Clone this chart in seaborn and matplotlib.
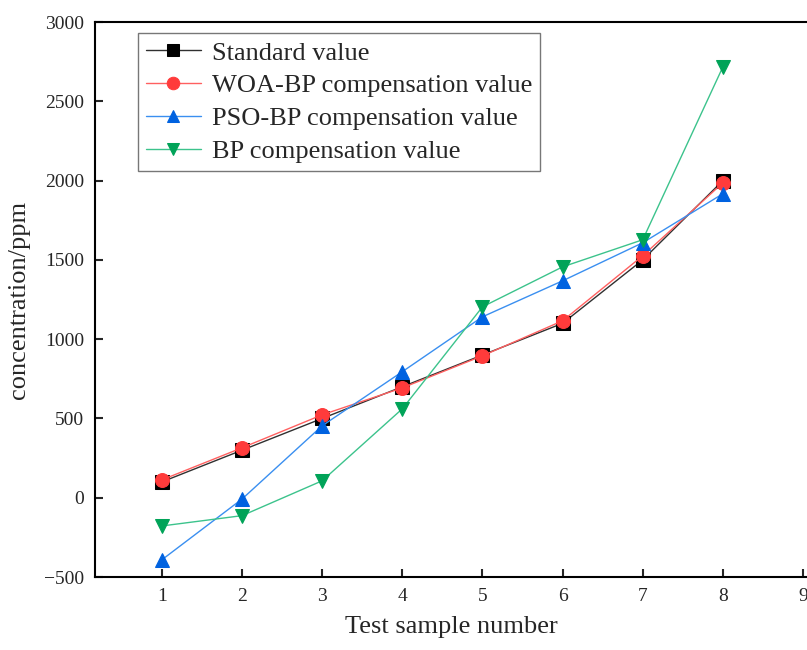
import pandas as pd
import numpy as np
import seaborn as sns
import matplotlib.pyplot as plt

samples = [1, 2, 3, 4, 5, 6, 7, 8]
standard = [100, 300, 500, 700, 900, 1100, 1500, 2000]
woa_bp = [113, 315, 523, 693, 895, 1116, 1526, 1986]
pso_bp = [-391, -8, 454, 795, 1141, 1368, 1608, 1917]
bp = [-178, -113, 107, 561, 1204, 1456, 1627, 2717]

names = ["Standard value", "WOA-BP compensation value",
         "PSO-BP compensation value", "BP compensation value"]
line_colors = ["#303030", "#FF6060", "#3A8FF0", "#3CC38C"]
marker_colors = ["#000000", "#FF3B3B", "#0062E0", "#00A358"]
markers = ["s", "o", "^", "v"]

sns.set_theme(style="white")
plt.rcParams['font.family'] = ['Liberation Serif', 'DejaVu Serif']

fig = plt.figure(figsize=(8.07, 6.5), dpi=100)
ax = fig.add_axes([0.1177, 0.1123, 0.8823, 0.8538])

for name, vals, lc, mc, mk in zip(names, [standard, woa_bp, pso_bp, bp],
                                   line_colors, marker_colors, markers):
    df = pd.DataFrame({"x": samples, "y": vals})
    sns.lineplot(data=df, x="x", y="y", ax=ax, color=lc, linewidth=1.0,
                 marker=mk, markersize=10, markerfacecolor=mc,
                 markeredgecolor=mc, label=name)

ax.set_xlim(0.164, 9.05)
ax.set_ylim(-500, 3000)
ax.set_xticks(range(1, 10))
ax.set_yticks(range(-500, 3001, 500))
ax.tick_params(direction="in", length=6, width=1.5, labelsize=14,
               left=True, bottom=True, pad=8)
for s in ax.spines.values():
    s.set_linewidth(1.5)
    s.set_color("black")
ax.spines["right"].set_visible(False)

ax.set_xlabel("Test sample number", fontsize=19, labelpad=8)
ax.set_ylabel("concentration/ppm", fontsize=19, labelpad=10)

leg = ax.legend(loc="upper left", bbox_to_anchor=(0.06, 0.98), fontsize=19,
                frameon=True, fancybox=False, handlelength=2.1,
                borderpad=0.3, labelspacing=0.36, handletextpad=0.4,
                borderaxespad=0, markerscale=0.9)
leg.get_frame().set_edgecolor("#555555")
leg.get_frame().set_linewidth(1.0)

fig.savefig("out.png", dpi=100)
